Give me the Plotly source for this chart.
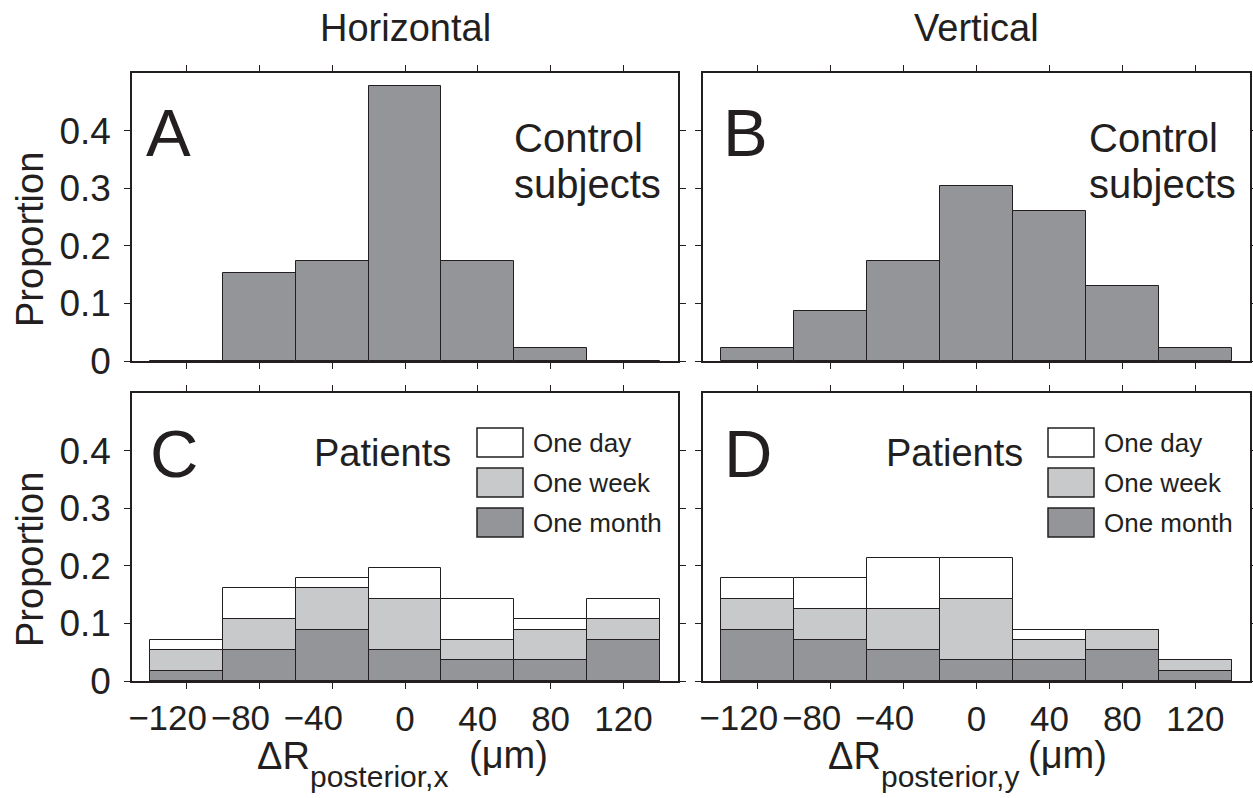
import plotly.graph_objects as go

# ---------------- data ----------------
bin_centers = [-120, -80, -40, 0, 40, 80, 120]
bin_width = 40
tick_vals_x = [-120, -80, -40, 0, 40, 80, 120]
tick_text_x = ["", "", "", "0", "40", "80", "120"]
neg_tick_vals_x = [-120, -80, -40]
neg_tick_text_x = ["\u2212120", "\u221280", "\u221240"]
tick_vals_y = [0, 0.1, 0.2, 0.3, 0.4]
tick_text_y = ["0", "0.1", "0.2", "0.3", "0.4"]

control_horizontal = [0.0, 0.152, 0.174, 0.478, 0.174, 0.022, 0.0]
control_vertical = [0.022, 0.087, 0.174, 0.304, 0.261, 0.130, 0.022]

patients_h_day = [0.071, 0.161, 0.179, 0.196, 0.143, 0.107, 0.143]
patients_h_week = [0.054, 0.107, 0.161, 0.143, 0.071, 0.089, 0.107]
patients_h_month = [0.018, 0.054, 0.089, 0.054, 0.036, 0.036, 0.071]

patients_v_day = [0.179, 0.179, 0.214, 0.214, 0.089, 0.089, 0.036]
patients_v_week = [0.143, 0.125, 0.125, 0.143, 0.071, 0.089, 0.036]
patients_v_month = [0.089, 0.071, 0.054, 0.036, 0.036, 0.054, 0.018]

legend_labels = ["One day", "One week", "One month"]

# ---------------- style ----------------
W, H = 1253, 798
FONT = "Liberation Sans, Arial, Helvetica, sans-serif"
INK = "#231f20"
C_DAY = "#ffffff"
C_WEEK = "#c8c9cb"
C_MONTH = "#939598"
EDGE = dict(color=INK, width=1)


def px(x):
    return x / W


def py(y):
    return 1 - y / H


fig = go.Figure()


def add_bars(values, color, xa, ya):
    fig.add_trace(go.Bar(x=bin_centers, y=values, width=bin_width,
                         marker=dict(color=color, line=EDGE),
                         xaxis=xa, yaxis=ya, showlegend=False,
                         hoverinfo="x+y"))


add_bars(control_horizontal, C_MONTH, "x", "y")
add_bars(control_vertical, C_MONTH, "x2", "y2")
add_bars(patients_h_day, C_DAY, "x3", "y3")
add_bars(patients_h_week, C_WEEK, "x3", "y3")
add_bars(patients_h_month, C_MONTH, "x3", "y3")
add_bars(patients_v_day, C_DAY, "x4", "y4")
add_bars(patients_v_week, C_WEEK, "x4", "y4")
add_bars(patients_v_month, C_MONTH, "x4", "y4")
# empty helper traces so the overlay label axes are drawn
fig.add_trace(go.Scatter(x=[], y=[], xaxis="x5", yaxis="y3", showlegend=False))
fig.add_trace(go.Scatter(x=[], y=[], xaxis="x6", yaxis="y4", showlegend=False))

left_dom = [px(132), px(678)]
right_dom = [px(703), px(1250)]
top_dom = [py(361), py(73)]
bot_dom = [py(681), py(393)]

TICKFONT_X = dict(family=FONT, size=35, color=INK)


def xaxis(dom, anchor, labels):
    return dict(domain=dom, anchor=anchor, range=[-150, 150],
                tickmode="array", tickvals=tick_vals_x, ticktext=tick_text_x,
                showticklabels=labels, ticks="outside", ticklen=6, tickwidth=1,
                tickcolor=INK, showline=True, linecolor=INK, linewidth=1.5,
                mirror="ticks", showgrid=False, zeroline=False,
                ticklabelstandoff=0, tickangle=0, automargin=False,
                tickfont=TICKFONT_X)


def neg_label_axis(dom, anchor, over):
    return dict(domain=dom, anchor=anchor, overlaying=over, range=[-150, 150],
                tickmode="array", tickvals=neg_tick_vals_x, ticktext=neg_tick_text_x,
                showticklabels=True, ticks="outside", ticklen=6, tickcolor="rgba(0,0,0,0)",
                showline=False, showgrid=False, zeroline=False,
                ticklabelstandoff=0, ticklabelshift=-19, tickangle=0,
                automargin=False, tickfont=TICKFONT_X)


def yaxis(dom, anchor, labels):
    return dict(domain=dom, anchor=anchor, range=[0, 0.5],
                tickmode="array", tickvals=tick_vals_y, ticktext=tick_text_y,
                showticklabels=labels, ticks="outside", ticklen=6, tickwidth=1,
                tickcolor=INK, showline=True, linecolor=INK, linewidth=1.5,
                mirror="ticks", showgrid=False, zeroline=False,
                ticklabelstandoff=6, automargin=False,
                tickfont=dict(family=FONT, size=37, color=INK))


fig.update_layout(
    width=W, height=H, autosize=False,
    margin=dict(l=0, r=0, t=0, b=0, autoexpand=False),
    paper_bgcolor="white", plot_bgcolor="white",
    barmode="overlay", bargap=0,
    xaxis=xaxis(left_dom, "y", False),
    yaxis=yaxis(top_dom, "x", True),
    xaxis2=xaxis(right_dom, "y2", False),
    yaxis2=yaxis(top_dom, "x2", False),
    xaxis3=xaxis(left_dom, "y3", True),
    yaxis3=yaxis(bot_dom, "x3", True),
    xaxis4=xaxis(right_dom, "y4", True),
    yaxis4=yaxis(bot_dom, "x4", False),
    xaxis5=neg_label_axis(left_dom, "y3", "x3"),
    xaxis6=neg_label_axis(right_dom, "y4", "x4"),
    font=dict(family=FONT, color=INK),
)

annotations = []
shapes = []


def text(t, x, y, size, xanchor="left", yanchor="middle", angle=0):
    annotations.append(dict(text=t, x=px(x), y=py(y), xref="paper", yref="paper",
                            xanchor=xanchor, yanchor=yanchor, showarrow=False,
                            textangle=angle,
                            font=dict(family=FONT, size=size, color=INK)))


# column titles
text("Horizontal", 405, 28, 38, xanchor="center")
text("Vertical", 976, 28, 38, xanchor="center")

# y-axis titles
text("Proportion", 30, 240, 38, xanchor="center", angle=-90)
text("Proportion", 30, 560, 38, xanchor="center", angle=-90)

# panel letters
text("A", 144, 133, 67)
text("B", 721, 133, 67)
text("C", 148, 453, 67)
text("D", 722, 453, 67)

# control labels
for x0 in (512, 1087):
    text("Control", x0, 138, 40)
    text("subjects", x0, 184, 40)

# patients + legends
for x_p, x_box in ((312, 477), (884, 1048)):
    text("Patients", x_p, 453, 38)
    for i, (lab, col) in enumerate(zip(legend_labels, [C_DAY, C_WEEK, C_MONTH])):
        y0 = 428 + 40 * i
        shapes.append(dict(type="rect", xref="paper", yref="paper",
                           x0=px(x_box), x1=px(x_box + 46),
                           y0=py(y0 + 29), y1=py(y0),
                           fillcolor=col, line=dict(color=INK, width=1.5)))
        text(lab, x_box + 54, y0 + 15, 26)

# x-axis titles
for x0, sub in ((255, "posterior,x"), (826, "posterior,y")):
    text("\u0394R", x0, 756, 38)
    text(sub, x0 + 53, 776, 30)
    text("(\u03bcm)", x0 + 212 if sub.endswith("x") else x0 + 200, 755, 38)

fig.update_layout(annotations=annotations, shapes=shapes)
fig.write_html("out.html",
               config={"displayModeBar": False},
               post_script="document.body.style.margin='0';"
                           "document.body.style.padding='0';"
                           "document.body.style.overflow='hidden';")
